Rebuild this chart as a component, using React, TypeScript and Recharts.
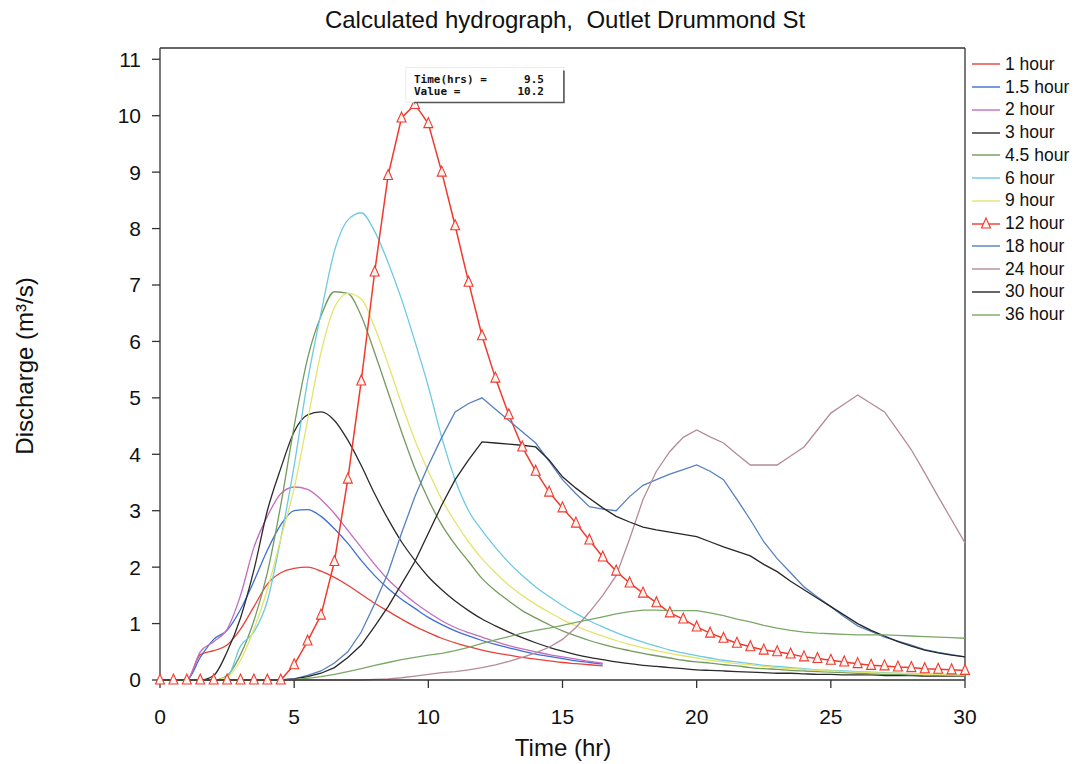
import React from "react";
import { LineChart, Line, XAxis, YAxis, ReferenceLine, ReferenceDot } from "recharts";

// time axis, half-hour steps
const TIME = [
  0, 0.5, 1, 1.5, 2, 2.5, 3, 3.5, 4, 4.5,
  5, 5.5, 6, 6.5, 7, 7.5, 8, 8.5, 9, 9.5,
  10, 10.5, 11, 11.5, 12, 12.5, 13, 13.5, 14, 14.5,
  15, 15.5, 16, 16.5, 17, 17.5, 18, 18.5, 19, 19.5,
  20, 20.5, 21, 21.5, 22, 22.5, 23, 23.5, 24, 24.5,
  25, 25.5, 26, 26.5, 27, 27.5, 28, 28.5, 29, 29.5,
  30,
];

// discharge (m3/s) per storm duration
const Q_1H = [
  0, 0, 0, 0.45, 0.52, 0.62, 0.9, 1.3, 1.7, 1.9,
  1.98, 2.0, 1.93, 1.82, 1.68, 1.52, 1.36, 1.22, 1.08, 0.95,
  0.84, 0.74, 0.66, 0.59, 0.53, 0.48, 0.44, 0.4, 0.37, 0.34,
  0.31, 0.29, 0.27, 0.25,
];
const Q_1_5H = [
  0, 0, 0, 0.4, 0.72, 0.88, 1.25, 1.75, 2.3, 2.75,
  3.0, 3.02, 2.9, 2.68, 2.42, 2.12, 1.85, 1.62, 1.43, 1.27,
  1.11, 0.98, 0.87, 0.78, 0.7, 0.63, 0.57, 0.51, 0.46, 0.42,
  0.38, 0.34, 0.31, 0.28,
];
const Q_2H = [
  0, 0, 0, 0.5, 0.68, 0.9, 1.5, 2.35, 2.9, 3.3,
  3.42, 3.38, 3.2, 2.95, 2.65, 2.35, 2.05, 1.78, 1.56, 1.37,
  1.2, 1.05, 0.93, 0.84, 0.76, 0.68, 0.61, 0.55, 0.5, 0.45,
  0.41, 0.37, 0.33, 0.3,
];
const Q_3H = [
  0, 0, 0, 0, 0.08, 0.5, 1.1, 1.95, 3.0, 3.75,
  4.4, 4.7, 4.75, 4.6, 4.25, 3.8, 3.3, 2.85, 2.45, 2.12,
  1.83, 1.6, 1.4, 1.23, 1.08, 0.96, 0.85, 0.75, 0.66, 0.58,
  0.51, 0.45, 0.4, 0.36, 0.32, 0.29, 0.26, 0.24, 0.22, 0.2,
  0.18, 0.17, 0.16, 0.15, 0.14, 0.13, 0.12, 0.12, 0.11, 0.1,
  0.1, 0.09, 0.09, 0.09, 0.08, 0.08, 0.08, 0.07, 0.07, 0.07,
  0.07,
];
const Q_4_5H = [
  0, 0, 0, 0, 0, 0.08, 0.45, 1.05, 1.9, 3.1,
  4.5, 5.7, 6.45, 6.88, 6.85, 6.45, 5.8, 5.1, 4.4, 3.75,
  3.2, 2.75, 2.4, 2.1, 1.8, 1.58, 1.4, 1.23, 1.1, 0.98,
  0.87, 0.78, 0.7, 0.63, 0.57, 0.52, 0.47, 0.43, 0.39, 0.35,
  0.32, 0.3, 0.27, 0.25, 0.22, 0.2, 0.19, 0.17, 0.16, 0.15,
  0.14, 0.13, 0.12, 0.11, 0.1, 0.1, 0.09, 0.09, 0.08, 0.08,
  0.07,
];
const Q_6H = [
  0, 0, 0, 0, 0, 0.05, 0.6, 0.85, 1.4, 2.5,
  3.8, 5.3, 6.5, 7.6, 8.15, 8.28, 7.95, 7.4, 6.75, 6.0,
  5.2, 4.3, 3.55, 3.0, 2.65, 2.35, 2.08, 1.85, 1.65, 1.48,
  1.32, 1.18, 1.05, 0.94, 0.84, 0.75, 0.67, 0.6, 0.53, 0.48,
  0.43, 0.39, 0.35, 0.32, 0.29, 0.26, 0.24, 0.22, 0.2, 0.18,
  0.17, 0.16, 0.15, 0.14, 0.13, 0.12, 0.11, 0.11, 0.1, 0.1,
  0.09,
];
const Q_9H = [
  0, 0, 0, 0, 0, 0.05, 0.35, 0.9, 1.6, 2.5,
  3.4, 4.6, 5.8, 6.6, 6.85, 6.75, 6.25, 5.6, 4.9, 4.25,
  3.7, 3.2, 2.8, 2.45, 2.15, 1.9, 1.68, 1.5, 1.34, 1.2,
  1.07, 0.96, 0.86, 0.78, 0.7, 0.63, 0.57, 0.52, 0.47, 0.43,
  0.39, 0.35, 0.32, 0.29, 0.27, 0.24, 0.22, 0.2, 0.19, 0.17,
  0.16, 0.15, 0.14, 0.13, 0.12, 0.12, 0.11, 0.1, 0.1, 0.09,
  0.09,
];
const Q_12H = [
  0, 0, 0, 0, 0, 0, 0, 0, 0, 0,
  0.27, 0.69, 1.15, 2.1, 3.56, 5.3, 7.23, 8.94, 9.96, 10.2,
  9.86, 9.0, 8.05, 7.05, 6.1, 5.35, 4.7, 4.13, 3.7, 3.33,
  3.05, 2.78, 2.48, 2.18, 1.93, 1.72, 1.54, 1.37, 1.19, 1.08,
  0.94, 0.83, 0.74, 0.65, 0.59, 0.53, 0.5, 0.46, 0.41, 0.38,
  0.35, 0.32, 0.29, 0.26, 0.25, 0.23, 0.22, 0.2, 0.19, 0.18,
  0.17,
];
const Q_18H = [
  0, 0, 0, 0, 0, 0, 0, 0, 0, 0,
  0.02, 0.08, 0.16, 0.3, 0.5, 0.85, 1.35, 1.9, 2.6, 3.25,
  3.8, 4.3, 4.75, 4.9, 5.0, 4.8, 4.6, 4.4, 4.2, 3.88,
  3.55, 3.3, 3.07, 3.03, 3.0, 3.25, 3.45, 3.55, 3.65, 3.73,
  3.81, 3.7, 3.55, 3.2, 2.84, 2.45, 2.15, 1.9, 1.65, 1.47,
  1.3, 1.12, 0.96, 0.86, 0.76, 0.69, 0.62, 0.54, 0.49, 0.45,
  0.41,
];
const Q_24H = [
  0, 0, 0, 0, 0, 0, 0, 0, 0, 0,
  0, 0, 0, 0, 0, 0, 0.01, 0.02, 0.04, 0.07,
  0.1, 0.13, 0.15, 0.18, 0.22, 0.27, 0.33, 0.4, 0.48, 0.58,
  0.72, 0.93, 1.2, 1.5, 1.85, 2.5, 3.2, 3.7, 4.05, 4.3,
  4.43, 4.31, 4.2, 4.0, 3.81, 3.81, 3.81, 3.97, 4.13, 4.43,
  4.73, 4.89, 5.05, 4.9, 4.75, 4.42, 4.08, 3.67, 3.25, 2.84,
  2.43,
];
const Q_30H = [
  0, 0, 0, 0, 0, 0, 0, 0, 0, 0,
  0.02, 0.06, 0.12, 0.22, 0.4, 0.62, 0.95, 1.3, 1.7, 2.1,
  2.6, 3.1, 3.55, 3.9, 4.22, 4.2, 4.18, 4.16, 4.13, 3.9,
  3.6, 3.4, 3.22, 3.05, 2.9, 2.8, 2.71, 2.66, 2.62, 2.58,
  2.54, 2.45, 2.36, 2.28, 2.2, 2.05, 1.92, 1.75, 1.6, 1.45,
  1.3, 1.15, 1.0, 0.88, 0.78, 0.68, 0.6, 0.53, 0.48, 0.44,
  0.41,
];
const Q_36H = [
  0, 0, 0, 0, 0, 0, 0, 0, 0, 0,
  0.01, 0.03, 0.06, 0.1, 0.15, 0.2, 0.26, 0.31, 0.36, 0.4,
  0.44, 0.47, 0.52, 0.58, 0.65, 0.71, 0.77, 0.83, 0.88, 0.92,
  0.97, 1.02, 1.07, 1.12, 1.17, 1.21, 1.24, 1.24, 1.23, 1.23,
  1.23, 1.19, 1.14, 1.08, 1.03, 0.97, 0.92, 0.88, 0.85, 0.83,
  0.82, 0.81, 0.8, 0.8, 0.8, 0.79, 0.78, 0.77, 0.76, 0.75,
  0.74,
];

const X_TICKS = [0, 5, 10, 15, 20, 25, 30];
const Y_TICKS = [0, 1, 2, 3, 4, 5, 6, 7, 8, 9, 10, 11];
const Y_MAX = 11.2;

const SERIES = [
  { key: "h1", name: "1 hour", color: "#e8413a", values: Q_1H, smooth: true },
  { key: "h1_5", name: "1.5 hour", color: "#3d6fd2", values: Q_1_5H, smooth: true },
  { key: "h2", name: "2 hour", color: "#c46cc0", values: Q_2H, smooth: true },
  { key: "h3", name: "3 hour", color: "#2b2b2b", values: Q_3H, smooth: true },
  { key: "h4_5", name: "4.5 hour", color: "#749a5e", values: Q_4_5H, smooth: true },
  { key: "h6", name: "6 hour", color: "#6ccae2", values: Q_6H, smooth: true },
  { key: "h9", name: "9 hour", color: "#e4e46c", values: Q_9H, smooth: true },
  { key: "h12", name: "12 hour", color: "#f03a2e", values: Q_12H, smooth: false },
  { key: "h18", name: "18 hour", color: "#5580bf", values: Q_18H, smooth: false },
  { key: "h24", name: "24 hour", color: "#b48a9c", values: Q_24H, smooth: false },
  { key: "h30", name: "30 hour", color: "#262626", values: Q_30H, smooth: false },
  { key: "h36", name: "36 hour", color: "#7aa866", values: Q_36H, smooth: false },
];

const chartData = TIME.map((time, i) => {
  const row: Record<string, number | null> = { time };
  SERIES.forEach((s) => {
    row[s.key] = i < s.values.length ? s.values[i] : null;
  });
  return row;
});

const PEAK_V = Math.max(...Q_12H);
const PEAK_T = TIME[Q_12H.indexOf(PEAK_V)];

const FONT = "'Liberation Sans', Arial, sans-serif";
const AXIS = "#333";

function Triangle({ cx, cy, color }: { cx?: number; cy?: number; color: string }) {
  if (cx == null || cy == null) return null;
  return (
    <path
      d={`M${cx},${cy - 6} L${cx + 4.5},${cy + 4} L${cx - 4.5},${cy + 4} Z`}
      fill="#fff4f0"
      stroke={color}
      strokeWidth={1.1}
    />
  );
}

function PeakBox({ cx, cy }: { cx?: number; cy?: number }) {
  if (cx == null || cy == null) return null;
  const mono = { fontFamily: "'DejaVu Sans Mono', monospace", fontSize: 11, fontWeight: 700, fill: "#111" };
  return (
    <g>
      <rect x={cx - 9} y={cy - 37} width={158} height={35} fill="#fff" stroke="#ddd" strokeWidth={0.6} />
      <polyline
        points={`${cx - 1},${cy - 2} ${cx + 149},${cy - 2} ${cx + 149},${cy - 34}`}
        fill="none"
        stroke="#555"
        strokeWidth={1.6}
      />
      <line x1={cx - 1} y1={cy - 2} x2={cx} y2={cy} stroke="#888" />
      <text x={cx - 1} y={cy - 21} {...mono}>Time(hrs) =</text>
      <text x={cx + 129} y={cy - 21} textAnchor="end" {...mono}>{PEAK_T.toFixed(1)}</text>
      <text x={cx - 1} y={cy - 9} {...mono}>Value =</text>
      <text x={cx + 129} y={cy - 9} textAnchor="end" {...mono}>{PEAK_V.toFixed(1)}</text>
    </g>
  );
}

function LegendBox() {
  return (
    <div style={{ position: "absolute", left: 970, top: 53, fontFamily: FONT, fontSize: 17.5, color: "#111" }}>
      {SERIES.map((s) => (
        <div key={s.key} style={{ display: "flex", alignItems: "center", height: 22.75 }}>
          <svg width={32} height={14} style={{ marginRight: 3 }}>
            <line x1={2} y1={7} x2={30} y2={7} stroke={s.color} strokeWidth={1.4} />
            {s.key === "h12" && <Triangle cx={16} cy={7} color={s.color} />}
          </svg>
          <span>{s.name}</span>
        </div>
      ))}
    </div>
  );
}

export default function App() {
  return (
    <div style={{ position: "absolute", left: 0, top: 0, width: 1077, height: 764, background: "#fff", fontFamily: FONT }}>
      <div
        style={{
          position: "absolute",
          left: 565,
          top: 6,
          transform: "translateX(-50%)",
          whiteSpace: "pre",
          fontSize: 24,
          color: "#111",
        }}
      >
        Calculated hydrograph,  Outlet Drummond St
      </div>
      <LineChart
        width={1077}
        height={764}
        data={chartData}
        margin={{ top: 48, right: 112, bottom: 34, left: 60 }}
      >
        <XAxis
          dataKey="time"
          type="number"
          domain={[0, 30]}
          ticks={X_TICKS}
          height={50}
          tickSize={8}
          tickMargin={21}
          stroke={AXIS}
          strokeWidth={1.3}
          tick={{ fill: "#111", fontSize: 21, fontFamily: FONT }}
        />
        <YAxis
          type="number"
          domain={[0, Y_MAX]}
          ticks={Y_TICKS}
          width={100}
          tickSize={8}
          tickMargin={11}
          stroke={AXIS}
          strokeWidth={1.3}
          tick={{ fill: "#111", fontSize: 21, fontFamily: FONT }}
        />
        <ReferenceLine y={Y_MAX} stroke={AXIS} strokeWidth={1.3} />
        <ReferenceLine x={30} stroke={AXIS} strokeWidth={1.3} />
        {SERIES.map((s) => (
          <Line
            key={s.key}
            dataKey={s.key}
            name={s.name}
            type={s.smooth ? "monotone" : "linear"}
            stroke={s.color}
            strokeWidth={s.key === "h12" ? 1.5 : 1.3}
            dot={s.key === "h12" ? (p: any) => <Triangle key={p.index} cx={p.cx} cy={p.cy} color={s.color} /> : false}
            activeDot={false}
            connectNulls={false}
            isAnimationActive={false}
          />
        ))}
        <ReferenceDot
          x={PEAK_T}
          y={PEAK_V}
          r={0}
          ifOverflow="visible"
          shape={(p: any) => <PeakBox cx={p.cx} cy={p.cy} />}
        />
      </LineChart>
      <div style={{ position: "absolute", left: 563, top: 734, transform: "translateX(-50%)", fontSize: 24, color: "#111", whiteSpace: "nowrap" }}>
        Time (hr)
      </div>
      <div
        style={{
          position: "absolute",
          left: 25,
          top: 366,
          transform: "translate(-50%, -50%) rotate(-90deg)",
          fontSize: 24,
          color: "#111",
          whiteSpace: "nowrap",
        }}
      >
        Discharge (m³/s)
      </div>
      <LegendBox />
    </div>
  );
}
